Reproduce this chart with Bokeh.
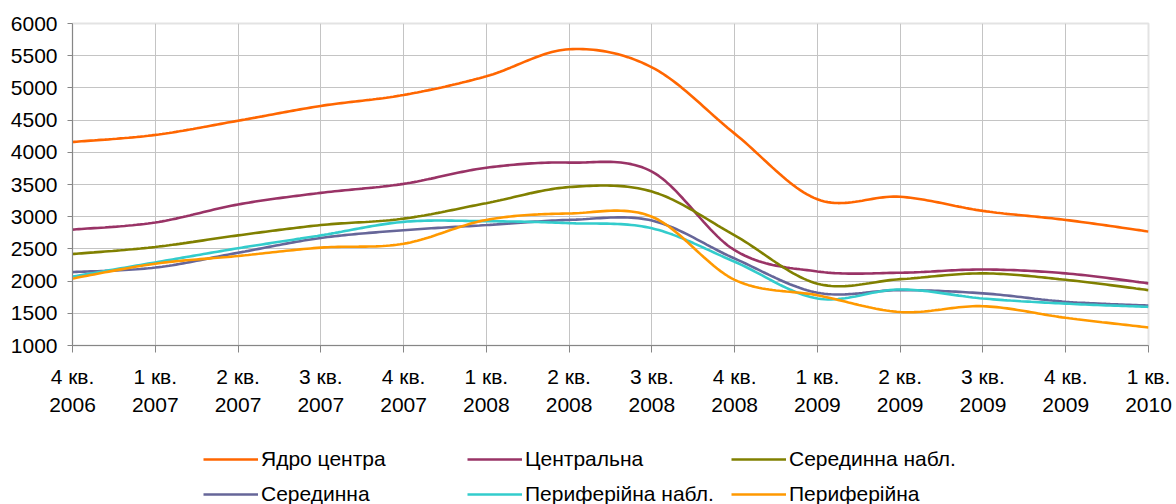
import numpy as np
from bokeh.plotting import figure
from bokeh.layouts import column
from bokeh.models import Range1d, FixedTicker, Legend, LegendItem
from bokeh.embed import file_html
from bokeh.resources import INLINE

quarters = ["4 кв.\n2006", "1 кв.\n2007", "2 кв.\n2007", "3 кв.\n2007", "4 кв.\n2007",
            "1 кв.\n2008", "2 кв.\n2008", "3 кв.\n2008", "4 кв.\n2008",
            "1 кв.\n2009", "2 кв.\n2009", "3 кв.\n2009", "4 кв.\n2009", "1 кв.\n2010"]

yadro = [4160, 4270, 4490, 4720, 4890, 5180, 5600, 5320, 4290, 3270, 3310, 3090, 2950, 2770]
tsentralna = [2800, 2910, 3190, 3370, 3510, 3760, 3840, 3700, 2480, 2150, 2130, 2180, 2120, 1965]
seredynna_nabl = [2420, 2530, 2710, 2870, 2970, 3210, 3460, 3390, 2710, 1960, 2030, 2120, 2020, 1860]
seredynna = [2140, 2210, 2440, 2670, 2790, 2870, 2950, 2940, 2350, 1820, 1860, 1810, 1680, 1620]
peryf_nabl = [2070, 2290, 2510, 2710, 2920, 2930, 2900, 2820, 2300, 1730, 1870, 1730, 1650, 1600]
peryf = [2040, 2270, 2390, 2520, 2580, 2950, 3050, 3000, 2020, 1780, 1520, 1610, 1430, 1280]

y_ticks = [1000, 1500, 2000, 2500, 3000, 3500, 4000, 4500, 5000, 5500, 6000]

series = [
    ("Ядро центра", yadro, "#FF6600"),
    ("Центральна", tsentralna, "#993366"),
    ("Серединна набл.", seredynna_nabl, "#808000"),
    ("Серединна", seredynna, "#666699"),
    ("Периферійна набл.", peryf_nabl, "#33CCCC"),
    ("Периферійна", peryf, "#FF9900"),
]


def smooth(xs, ys, n=24):
    xs = np.asarray(xs, float)
    ys = np.asarray(ys, float)
    P = np.column_stack([xs, ys])
    out = []
    m = len(P)
    for i in range(m - 1):
        p0 = P[i - 1] if i > 0 else P[i]
        p1 = P[i]
        p2 = P[i + 1]
        p3 = P[i + 2] if i + 2 < m else P[i + 1]
        c1 = p1 + (p2 - p0) / 6.0
        c2 = p2 - (p3 - p1) / 6.0
        t = np.linspace(0, 1, n, endpoint=(i == m - 2))[:, None]
        b = ((1 - t) ** 3) * p1 + 3 * ((1 - t) ** 2) * t * c1 + 3 * (1 - t) * t ** 2 * c2 + t ** 3 * p2
        out.append(b)
    B = np.vstack(out)
    return B[:, 0], B[:, 1]


FONT = "Liberation Sans"
FS = "21px"
LW = 2.6

p = figure(width=1176, height=425, output_backend="svg", toolbar_location=None,
           x_range=Range1d(0, len(quarters) - 1), y_range=Range1d(1000, 6000),
           min_border_left=72, min_border_top=23, min_border_right=28, min_border_bottom=80)

p.outline_line_color = "#E3E3E3"
p.outline_line_width = 2
p.background_fill_color = "white"
p.border_fill_color = "white"

xs = list(range(len(quarters)))
for name, vals, col in series:
    sx, sy = smooth(xs, vals)
    p.line(sx, sy, line_color=col, line_width=LW)

# axes
p.xaxis.ticker = FixedTicker(ticks=xs)
p.xaxis.major_label_overrides = {i: q for i, q in enumerate(quarters)}
p.yaxis.ticker = FixedTicker(ticks=y_ticks)
for ax in (p.xaxis[0], p.yaxis[0]):
    ax.axis_line_color = "#868686"
    ax.axis_line_width = 1
    ax.major_tick_line_color = "#868686"
    ax.major_tick_in = 0
    ax.minor_tick_line_color = None
    ax.major_label_text_font = FONT
    ax.major_label_text_font_size = FS
    ax.major_label_text_color = "black"
p.xaxis.major_tick_out = 7
p.yaxis.major_tick_out = 5
p.xaxis.major_label_standoff = 12
p.yaxis.major_label_standoff = 10
p.xaxis.major_label_text_line_height = 1.24

p.xgrid.ticker = FixedTicker(ticks=xs)
p.ygrid.ticker = FixedTicker(ticks=y_ticks)
p.xgrid.grid_line_color = "#C4C4C4"
p.ygrid.grid_line_color = "#C4C4C4"
p.xgrid.grid_line_width = 1
p.ygrid.grid_line_width = 1

# legend figure below the chart (its frame is aligned with the chart's frame)
lp = figure(width=1176, height=79, output_backend="svg", toolbar_location=None,
            x_range=Range1d(0, 1), y_range=Range1d(0, 1),
            min_border_left=0, min_border_right=0, min_border_top=0, min_border_bottom=0)
lp.axis.visible = False
lp.grid.visible = False
lp.outline_line_color = None
lp.background_fill_color = "white"
lp.border_fill_color = "white"

lrend = {}
for name, _, col in series:
    lrend[name] = lp.line([5, 6], [5, 6], line_color=col, line_width=LW)

columns = [["Ядро центра", "Серединна"],
           ["Центральна", "Периферійна набл."],
           ["Серединна набл.", "Периферійна"]]
col_x = [131, 395, 659]
for cx, names in zip(col_x, columns):
    items = [LegendItem(label=n, renderers=[lrend[n]]) for n in names]
    lg = Legend(items=items, location=(cx, -2), orientation="vertical",
                glyph_width=55, glyph_height=22, label_height=22, label_standoff=3,
                spacing=11, padding=0, margin=0, border_line_color=None,
                background_fill_alpha=0, label_text_font=FONT,
                label_text_font_size=FS, label_text_color="black")
    lp.add_layout(lg, "center")

open("out.html", "w").write(file_html(column(p, lp, spacing=0), INLINE))
